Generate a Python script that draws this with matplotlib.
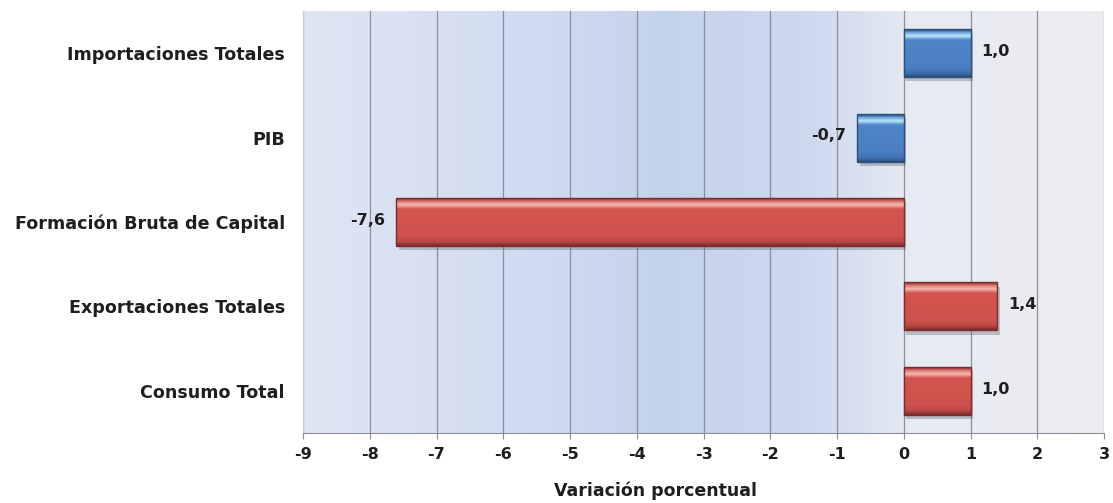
import matplotlib
matplotlib.use("Agg")
import matplotlib.pyplot as plt
import numpy as np
from matplotlib.patches import Rectangle
from matplotlib.colors import LinearSegmentedColormap

categories = ["Consumo Total", "Exportaciones Totales", "Formación Bruta de Capital", "PIB", "Importaciones Totales"]
values = [1.0, 1.4, -7.6, -0.7, 1.0]
labels = ["1,0", "1,4", "-7,6", "-0,7", "1,0"]
groups = ["red", "red", "red", "blue", "blue"]
xticks = list(range(-9, 4))

plt.rcParams['font.family'] = ['DejaVu Sans']
FS = 11.5
FS_CAT = 12.6
TXT = "#1e1e1e"

fig = plt.figure(figsize=(11.13, 5.03), dpi=100)
ax = fig.add_axes([303/1113, 1 - 433/503, (1104-303)/1113, (433-11)/503])
ax.set_xlim(-9, 3)
ax.set_ylim(-0.5, 4.5)

# background gradient
bg = LinearSegmentedColormap.from_list("bg", [
    (0.0, "#dfe5f3"), (0.25, "#d3ddf1"), (0.45, "#c4d3ec"), (0.62, "#ccd8ee"),
    (0.72, "#dde4f2"), (0.76, "#e6eaf3"), (1.0, "#ededf0")])
grad = np.linspace(0, 1, 400).reshape(1, -1)
ax.imshow(grad, cmap=bg, extent=[-9, 3, -0.5, 4.5], aspect='auto', zorder=0)

for x in xticks:
    ax.axvline(x, color="#8a8f99", lw=0.9, zorder=1)

cmaps = {
    "blue": LinearSegmentedColormap.from_list("b", [(0, "#2b4f7e"), (0.08, "#3f6fad"), (0.2, "#4a7fc4"), (0.76, "#4f85c9"), (0.84, "#b8e6fa"), (0.90, "#7fb4e4"), (0.95, "#3d6aa5"), (1, "#2b4f7e")]),
    "red": LinearSegmentedColormap.from_list("r", [(0, "#7e2a28"), (0.08, "#b64844"), (0.2, "#cf514d"), (0.76, "#d4554f"), (0.84, "#f5b8ae"), (0.90, "#e08a80"), (0.95, "#b04642"), (1, "#7e2a28")]),
}
edges = {"blue": "#2e4f78", "red": "#7a2d2a"}

h = 0.57
for i, (v, lab, g) in enumerate(zip(values, labels, groups)):
    x0 = min(0, v)
    w = abs(v)
    sh = Rectangle((x0 + 0.04, i - h/2 - 0.05), w, h, facecolor="#4a4f5a", alpha=0.3, lw=0, zorder=2)
    ax.add_patch(sh)
    rect = Rectangle((x0, i - h/2), w, h, facecolor="none", edgecolor="none", zorder=3)
    ax.add_patch(rect)
    vg = np.linspace(0, 1, 200).reshape(-1, 1)
    im = ax.imshow(vg, cmap=cmaps[g], extent=[x0, x0 + w, i - h/2, i + h/2], origin='lower', aspect='auto', zorder=3)
    im.set_clip_path(rect)
    ax.add_patch(Rectangle((x0, i - h/2), w, h, facecolor="none", edgecolor=edges[g], lw=1.0, zorder=3.5))
    if v >= 0:
        ax.text(v + 0.16, i + 0.02, lab, ha='left', va='center', fontsize=FS, fontweight='bold', color=TXT, zorder=4)
    else:
        ax.text(v - 0.17, i + 0.02, lab, ha='right', va='center', fontsize=FS, fontweight='bold', color=TXT, zorder=4)

ax.set_yticks(range(len(categories)))
ax.set_yticklabels(categories, fontsize=FS_CAT, fontweight='bold', color=TXT)
ax.set_xticks(xticks)
ax.set_xticklabels([str(x) for x in xticks], fontsize=FS, fontweight='bold', color=TXT)
ax.tick_params(axis='y', length=0, pad=13)
ax.tick_params(axis='x', length=4, color="#8a8f99", pad=6)
for s in ["top", "right"]:
    ax.spines[s].set_visible(False)
ax.spines["left"].set_color("#c8ccd4")
ax.spines["bottom"].set_color("#8a8f99")

fig.text(655/1113, 1 - 491/503, "Variación porcentual", ha='center', va='center',
         fontsize=12.5, fontweight='bold', color=TXT)

fig.savefig("out.png", dpi=100)
